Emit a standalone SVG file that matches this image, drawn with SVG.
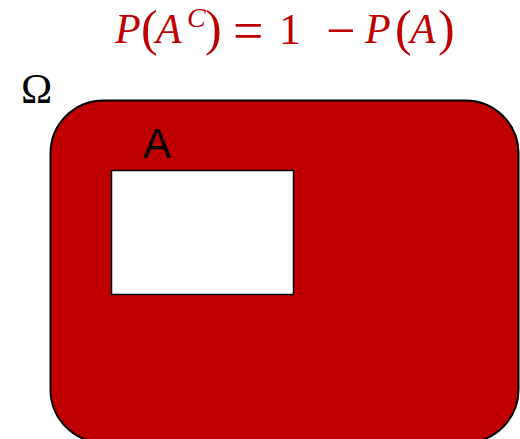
<svg xmlns="http://www.w3.org/2000/svg" width="520" height="439" viewBox="0 0 520 439">
<style>
.f{fill:#C00000;font-family:"Liberation Serif","DejaVu Serif",serif;font-size:42px}
.i{font-style:italic}
.p{font-size:50px}
</style>
<rect width="520" height="439" fill="#fff"/>
<g id="formula">
<text class="f" y="43"><tspan class="i" x="115">P</tspan><tspan class="p" x="141" y="45">(</tspan><tspan class="i" x="156" y="43">A</tspan><tspan class="i" x="187" y="27" font-size="28">C</tspan><tspan class="p" x="205" y="45">)</tspan><tspan x="233" y="49" font-size="54">=</tspan><tspan x="279" y="44" font-size="44">1</tspan><tspan x="326" y="48" font-size="52">−</tspan><tspan class="i" x="365" y="43">P</tspan><tspan class="p" x="395" y="45">(</tspan><tspan class="i" x="410" y="43">A</tspan><tspan class="p" x="438" y="45">)</tspan></text>
</g>
<g id="omega">
<rect x="50.5" y="100.5" width="468" height="342" rx="53" ry="53" fill="#C00000" stroke="#000" stroke-width="2"/>
<text x="36.5" y="103" text-anchor="middle" font-family="Liberation Serif, serif" font-size="42">Ω</text>
</g>
<g id="A">
<rect x="111.5" y="170.5" width="182" height="124" fill="#fff" stroke="#000" stroke-width="1.5"/>
<text x="157" y="158" text-anchor="middle" font-family="Liberation Sans, Arial, sans-serif" font-size="42">A</text>
</g>
</svg>
